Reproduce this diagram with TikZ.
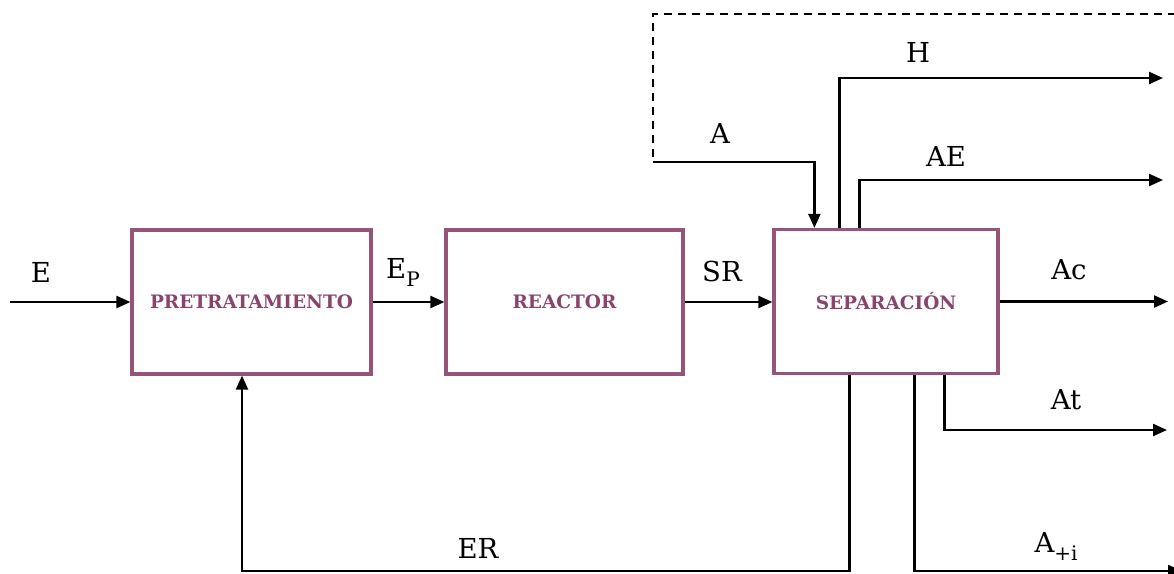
\documentclass[tikz,border=0pt]{standalone}
\usepackage{fontspec}
\setmainfont{DejaVu Serif}
\usetikzlibrary{arrows.meta,calc}
\definecolor{boxline}{HTML}{965478}
\definecolor{boxtext}{HTML}{8A446C}
\begin{document}
\begin{tikzpicture}[x=1pt,y=-1pt,
  blk/.style={draw=boxline,line width=3.2pt,minimum height=144pt,inner sep=0pt,
    font=\fontsize{18.5}{20}\selectfont\bfseries,text=boxtext},
  flow/.style={line width=2.3pt,-{Triangle[length=14pt,width=12pt]}},
  plain/.style={line width=2.3pt},
  lbl/.style={font=\fontsize{27.5}{30}\selectfont,inner sep=0pt}]
\useasboundingbox (0,0) rectangle (1174,573);
\node[blk,minimum width=239pt] (pre) at (251.5,302) {PRETRATAMIENTO};
\node[blk,minimum width=237pt] (reac) at (564.5,302) {REACTOR};
\node[blk,minimum width=224pt] (sep) at (886,301.5) {SEPARACIÓN};
% external coordinates
\coordinate (ein) at (10,302);
\coordinate (acend) at (1168,301.5);
\coordinate (hend) at (1163,78);
\coordinate (aeend) at (1163,180);
\coordinate (atend) at (1167,430);
\coordinate (aiend) at (1182,571);
\coordinate (dstart) at (1176,14);
\coordinate (dcorner) at (653,14);
\coordinate (acorner) at (653,162);
\coordinate (erbottom) at (242,571);
% main line
\draw[flow] (ein) -- (pre.west);
\draw[flow] (pre.east) -- (reac.west);
\draw[flow] (reac.east) -- (reac.east -| sep.west);
\draw[flow] (sep.east) -- (acend);
% top outputs
\draw[flow] ([xshift=67pt]sep.north west) |- (hend);
\draw[flow] ([xshift=87pt]sep.north west) |- (aeend);
% recycle A
\draw[plain,dash pattern=on 8pt off 6pt] (dstart) -- (dcorner) -- (acorner);
\draw[flow] (acorner) -| ([xshift=42pt]sep.north west);
% bottom outputs
\draw[flow] ([xshift=172pt]sep.south west) |- (atend);
\draw[flow] ([xshift=142pt]sep.south west) |- (aiend);
\draw[flow] ([xshift=77pt]sep.south west) |- (erbottom) -- (erbottom |- pre.south);
% labels
\node[lbl] (le) at (41,272) {E};
\node[lbl] (lep) at (403,272) {E\raisebox{-8pt}{\fontsize{20}{22}\selectfont P}};
\node[lbl] (lsr) at (722,271) {SR};
\node[lbl] (lac) at (1069,270) {Ac};
\node[lbl] (lh) at (918,52) {H};
\node[lbl] (la) at (720,133) {A};
\node[lbl] (lae) at (946,156) {AE};
\node[lbl] (lat) at (1066,400) {At};
\node[lbl] (lai) at (1056,546) {A\raisebox{-8pt}{\fontsize{20}{22}\selectfont +i}};
\node[lbl] (ler) at (478,548) {ER};
\end{tikzpicture}
\end{document}
